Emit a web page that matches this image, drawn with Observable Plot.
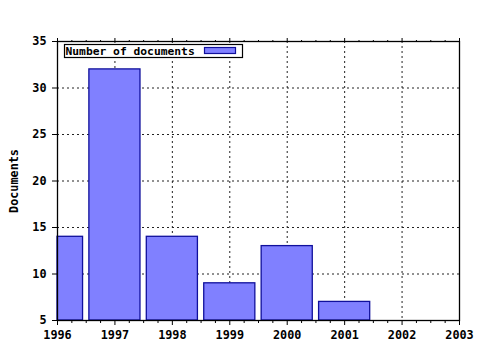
<!DOCTYPE html>
<html>
<head>
<meta charset="utf-8">
<script src="https://cdn.jsdelivr.net/npm/d3@7"></script>
<script src="https://cdn.jsdelivr.net/npm/@observablehq/plot@0.6"></script>
<style>
  html, body { margin: 0; padding: 0; background: #fff; }
  #chart svg { display: block; }
</style>
</head>
<body>
<div id="chart"></div>
<script>
const years = [1996, 1997, 1998, 1999, 2000, 2001];
const documents = [14, 32, 14, 9, 13, 7];
const xTicks = [1996, 1997, 1998, 1999, 2000, 2001, 2002, 2003];
const yTicks = [5, 10, 15, 20, 25, 30, 35];
const seriesName = "Number of documents";
const yLabel = "Documents";

const data = years.map((y, i) => ({year: y, value: documents[i]}));
const xMin = xTicks[0], xMax = xTicks[xTicks.length - 1];
const minorX = d3.range(xMin, xMax, 0.25).filter(v => !Number.isInteger(v));
const half = 0.445;

const FONT = "'DejaVu Sans Mono', monospace";
const FS = "11.8px";
const fill = "#8080ff";
const stroke = "#10109c";

const chart = Plot.plot({
  width: 480,
  height: 350,
  marginLeft: 57,
  marginRight: 21,
  marginTop: 41,
  marginBottom: 30,
  style: {background: "#fff", fontFamily: FONT, fontSize: FS, fontWeight: "bold", color: "#000"},
  x: {domain: [xMin, xMax], axis: null},
  y: {domain: [5, 35], axis: null},
  marks: [
    Plot.gridX(xTicks.slice(1, -1), {stroke: "#222", strokeOpacity: 1, strokeDasharray: "2,3"}),
    Plot.gridY(yTicks.slice(1, -1), {stroke: "#222", strokeOpacity: 1, strokeDasharray: "2,3"}),
    Plot.rectY(data, {
      x1: d => Math.max(d.year - half, xMin),
      x2: d => Math.min(d.year + half, xMax),
      y1: 5,
      y2: "value",
      fill: fill,
      stroke: stroke,
      strokeWidth: 1.3
    }),
    Plot.frame({stroke: "#000", strokeWidth: 1.3}),
    Plot.axisX(xTicks, {anchor: "bottom", tickSize: 5, tickPadding: 5, tickFormat: d => String(d), fontWeight: "bold", label: null}),
    Plot.axisX(minorX, {anchor: "bottom", tickSize: 3, text: null, label: null}),
    Plot.axisX(xTicks, {anchor: "top", tickSize: 4, text: null, label: null}),
    Plot.axisX(minorX, {anchor: "top", tickSize: 2, text: null, label: null}),
    Plot.axisY(yTicks, {anchor: "left", tickSize: 5, tickPadding: 6, fontWeight: "bold", label: null})
  ]
});

document.getElementById("chart").appendChild(chart);

// Axis title and legend inside the SVG
const svg = d3.select(chart);
svg.append("text")
  .attr("transform", "translate(18,181) rotate(-90)")
  .attr("text-anchor", "middle")
  .attr("font-family", FONT)
  .attr("font-size", FS)
  .attr("font-weight", "bold")
  .attr("fill", "#000")
  .text(yLabel);

const lg = svg.append("g");
lg.append("rect")
  .attr("x", 64.5).attr("y", 44.5).attr("width", 178).attr("height", 13)
  .attr("fill", "#fff").attr("stroke", "#000").attr("stroke-width", 1.2);
lg.append("text")
  .attr("x", 65.5).attr("y", 55)
  .attr("text-anchor", "start")
  .attr("font-family", FONT)
  .attr("font-size", "11.3px")
  .attr("font-weight", "bold")
  .attr("fill", "#000")
  .text(seriesName);
lg.append("rect")
  .attr("x", 204.5).attr("y", 47.5).attr("width", 31).attr("height", 6)
  .attr("fill", fill).attr("stroke", stroke).attr("stroke-width", 1.2);
</script>
</body>
</html>
